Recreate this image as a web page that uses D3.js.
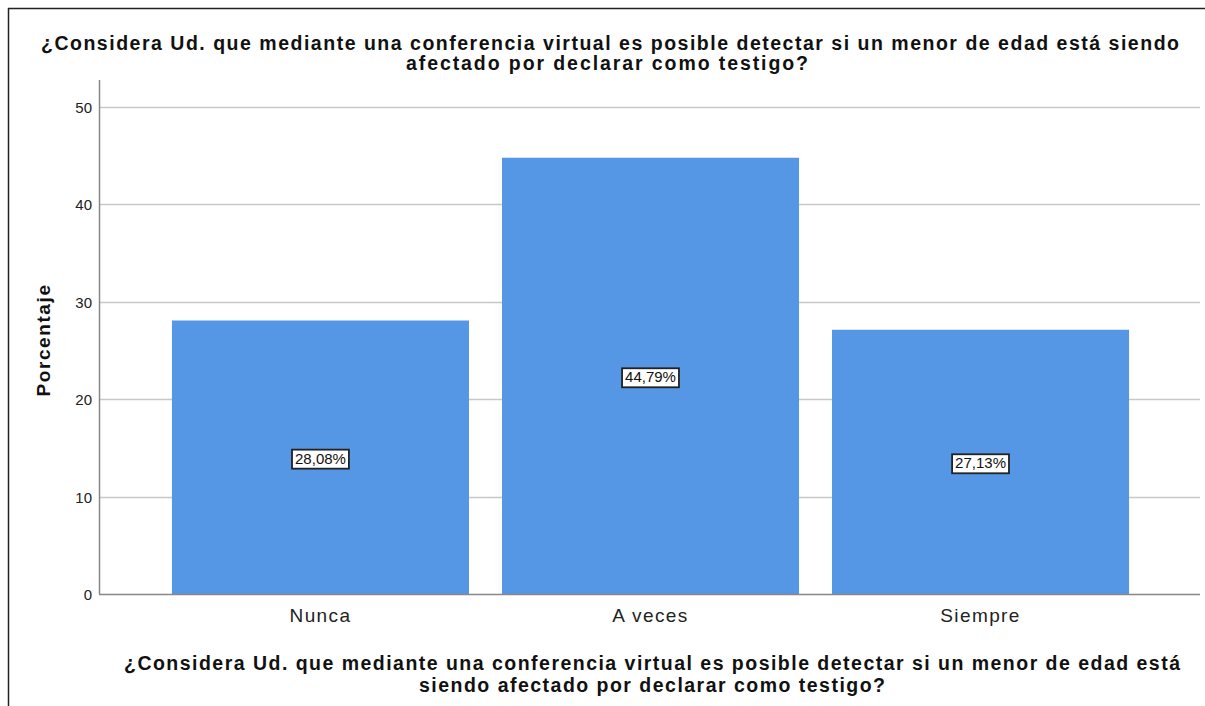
<!DOCTYPE html>
<html><head><meta charset="utf-8">
<script src="https://cdn.jsdelivr.net/npm/d3@7"></script>
<style>body{margin:0;background:#fff}svg{display:block}text{font-family:"Liberation Sans",Arial,sans-serif}</style>
</head><body><svg id="c" width="1205" height="706"></svg>
<script>
const categories = ["Nunca", "A veces", "Siempre"];
const values = [28.08, 44.79, 27.13];
const valueLabels = ["28,08%", "44,79%", "27,13%"];
const yTicks = [0, 10, 20, 30, 40, 50];
const titleLines = ["¿Considera Ud. que mediante una conferencia virtual es posible detectar si un menor de edad está siendo", "afectado por declarar como testigo?"];
const xTitleLines = ["¿Considera Ud. que mediante una conferencia virtual es posible detectar si un menor de edad está", "siendo afectado por declarar como testigo?"];
const yTitle = "Porcentaje";

const FONT = "Liberation Sans, Arial, sans-serif";
const svg = d3.select("#c");
// frame
svg.append("line").attr("x1",8).attr("x2",1205).attr("y1",8.5).attr("y2",8.5).attr("stroke","#222").attr("stroke-width",1.5);
svg.append("line").attr("x1",8.5).attr("x2",8.5).attr("y1",8).attr("y2",706).attr("stroke","#222").attr("stroke-width",1.5);

const L=99, R=1200, T=80, B=594;
const x = d3.scaleBand().domain(categories).range([L+1,R+1]).paddingInner(0.1).paddingOuter(0.218);
const y = d3.scaleLinear().domain([0,50]).range([B,107]);

// gridlines
svg.append("g").selectAll("line").data(yTicks.filter(d=>d>0)).join("line")
  .attr("x1",L).attr("x2",R).attr("y1",d=>Math.round(y(d))+0.5).attr("y2",d=>Math.round(y(d))+0.5)
  .attr("stroke","#c8c8c8").attr("stroke-width",1.3);

// bars
svg.append("g").selectAll("rect").data(values).join("rect")
  .attr("x",(d,i)=>x(categories[i])).attr("width",x.bandwidth())
  .attr("y",d=>y(d)).attr("height",d=>B-y(d)).attr("fill","#5596e5");

// y axis
const ya = svg.append("g").attr("transform",`translate(${L},0)`)
  .call(d3.axisLeft(y).tickValues(yTicks).tickSize(0).tickPadding(7));
ya.select(".domain").remove();
ya.selectAll("text").attr("font-size",15).attr("fill","#222").attr("font-family",FONT).attr("dy","0.36em");
svg.append("line").attr("x1",L+0.5).attr("x2",L+0.5).attr("y1",T).attr("y2",B).attr("stroke","#888").attr("stroke-width",1.5);

// x axis
const xa = svg.append("g").attr("transform",`translate(0,${B})`)
  .call(d3.axisBottom(x).tickSize(0));
xa.select(".domain").remove();
xa.selectAll("text").attr("font-size",19).attr("fill","#222").attr("font-family",FONT)
  .attr("y",28).attr("dy",0).attr("letter-spacing",1.4);
svg.append("line").attr("x1",L).attr("x2",R).attr("y1",B+0.5).attr("y2",B+0.5).attr("stroke","#888").attr("stroke-width",1.5);

// value labels
const lg = svg.append("g").selectAll("g").data(values).join("g")
  .attr("transform",(d,i)=>`translate(${x(categories[i])+x.bandwidth()/2},${y(d/2)+1})`);
lg.append("text").attr("text-anchor","middle").attr("dy","0.36em").attr("font-size",15).attr("fill","#111")
  .text((d,i)=>valueLabels[i]);
lg.each(function(){
  const g=d3.select(this); const bb=g.select("text").node().getBBox();
  g.insert("rect","text").attr("x",bb.x-3).attr("y",bb.y).attr("width",bb.width+6).attr("height",bb.height+2)
   .attr("fill","#fff").attr("stroke","#222").attr("stroke-width",1.8);
});

// titles
const tt = svg.append("text").attr("text-anchor","middle").attr("font-size",19.5).attr("font-weight","bold").attr("fill","#111");
tt.append("tspan").attr("x",610).attr("y",49.5).attr("textLength",1138).attr("lengthAdjust","spacing").text(titleLines[0]);
tt.append("tspan").attr("x",607).attr("y",70).attr("textLength",402).attr("lengthAdjust","spacing").text(titleLines[1]);
const xt = svg.append("text").attr("text-anchor","middle").attr("font-size",19.5).attr("font-weight","bold").attr("fill","#111");
xt.append("tspan").attr("x",652).attr("y",670).attr("textLength",1056).attr("lengthAdjust","spacing").text(xTitleLines[0]);
xt.append("tspan").attr("x",652).attr("y",692).attr("textLength",466).attr("lengthAdjust","spacing").text(xTitleLines[1]);
svg.append("text").attr("transform",`translate(50,${(T+B)/2+3}) rotate(-90)`).attr("text-anchor","middle")
  .attr("font-size",19).attr("font-weight","bold").attr("fill","#111").attr("letter-spacing",1.6).text(yTitle);
</script></body></html>
